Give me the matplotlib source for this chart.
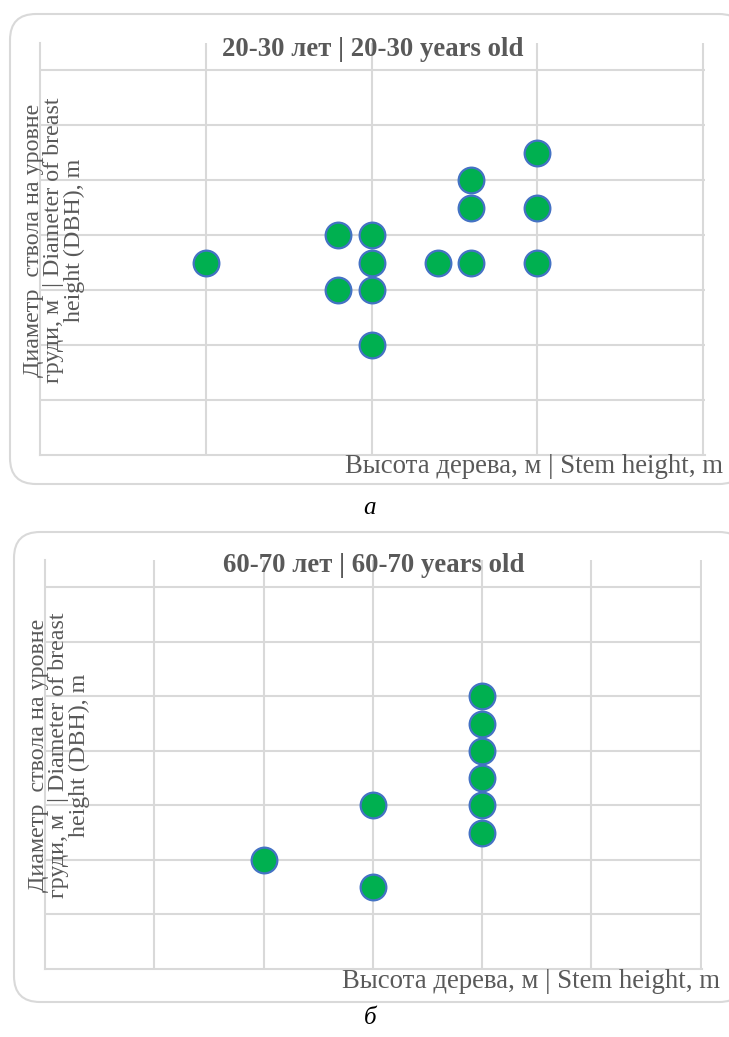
import matplotlib
matplotlib.use("Agg")
import matplotlib.pyplot as plt
from matplotlib.patches import FancyBboxPatch
from matplotlib.transforms import IdentityTransform

# --- data (grid units, no tick labels in the original) ---
height_a = [1, 1.8, 2, 2, 1.8, 2, 2, 2.4, 2.6, 2.6, 2.6, 3, 3, 3]
dbh_a = [3.5, 4, 4, 3.5, 3, 3, 2, 3.5, 3.5, 5, 4.5, 3.5, 4.5, 5.5]

height_b = [2, 3, 3, 4, 4, 4, 4, 4, 4]
dbh_b = [2, 1.5, 3, 2.5, 3, 3.5, 4, 4.5, 5]

titles = ["20-30 лет | 20-30 years old", "60-70 лет | 60-70 years old"]
xlabel = "Высота дерева, м | Stem height, m"
ylabel = "Диаметр  ствола на уровне\nгруди, м  | Diameter of breast\nheight (DBH), m"
captions = ["а", "б"]

W, H = 729, 1037
GRID = "#d9d9d9"
TXT = "#595959"
plt.rcParams["font.family"] = ["Liberation Serif", "DejaVu Serif"]

fig = plt.figure(figsize=(W / 100, H / 100), dpi=100)


def fx(x):
    return x / W


def fy(y):
    return 1 - y / H


def panel(x, y, xmax, box, ax_px, title):
    # rounded frame around the chart, in pixels
    bx0, by0, bx1, by1 = box
    fig.add_artist(FancyBboxPatch((bx0, H - by1), bx1 - bx0, by1 - by0,
                                  boxstyle="round,pad=0,rounding_size=26",
                                  transform=IdentityTransform(), fc="white",
                                  ec=GRID, lw=1.5, zorder=0))
    l, t, r, b = ax_px
    ax = fig.add_axes([fx(l), fy(b), (r - l) / W, (b - t) / H])
    ax.patch.set_visible(False)
    ax.set_xlim(0, xmax + 0.012)
    ax.set_ylim(0, 7.5)
    ax.set_xticks(range(1, xmax + 1))
    ax.set_yticks(range(1, 8))
    ax.grid(True, color=GRID, lw=1.5)
    ax.set_axisbelow(True)
    ax.tick_params(length=0, labelbottom=False, labelleft=False)
    for s in ("top", "right"):
        ax.spines[s].set_visible(False)
    for s in ("left", "bottom"):
        ax.spines[s].set_color(GRID)
        ax.spines[s].set_linewidth(1.5)
    ax.plot(x, y, "o", ls="none", ms=18.5, mfc="#00b050", mec="#4472c4",
            mew=1.6, zorder=3, clip_on=False)

    fig.text(fx((l + r) / 2), fy(t + 6), title, ha="center", va="center",
             fontsize=19.3, fontweight="bold", color=TXT)
    fig.text(fx(r + 18), fy(b + 12), xlabel, ha="right", va="center",
             fontsize=19.3, color=TXT)
    fig.text(fx(l + 14), fy((t + b) / 2 - 9), ylabel, ha="center", va="center",
             rotation=90, fontsize=17.3, color=TXT, linespacing=0.98,
             multialignment="center")
    return ax


panel(height_a, dbh_a, 4, (10, 14, 745, 484), (40, 43, 705, 455), titles[0])
panel(height_b, dbh_b, 6, (14, 532, 745, 1002), (45, 560, 702, 969), titles[1])

fig.text(fx(370), fy(508), captions[0], ha="center", va="center", fontsize=18,
         style="italic", color="black")
fig.text(fx(370), fy(1018), captions[1], ha="center", va="center", fontsize=18,
         style="italic", color="black")

fig.savefig("out.png", dpi=100)
